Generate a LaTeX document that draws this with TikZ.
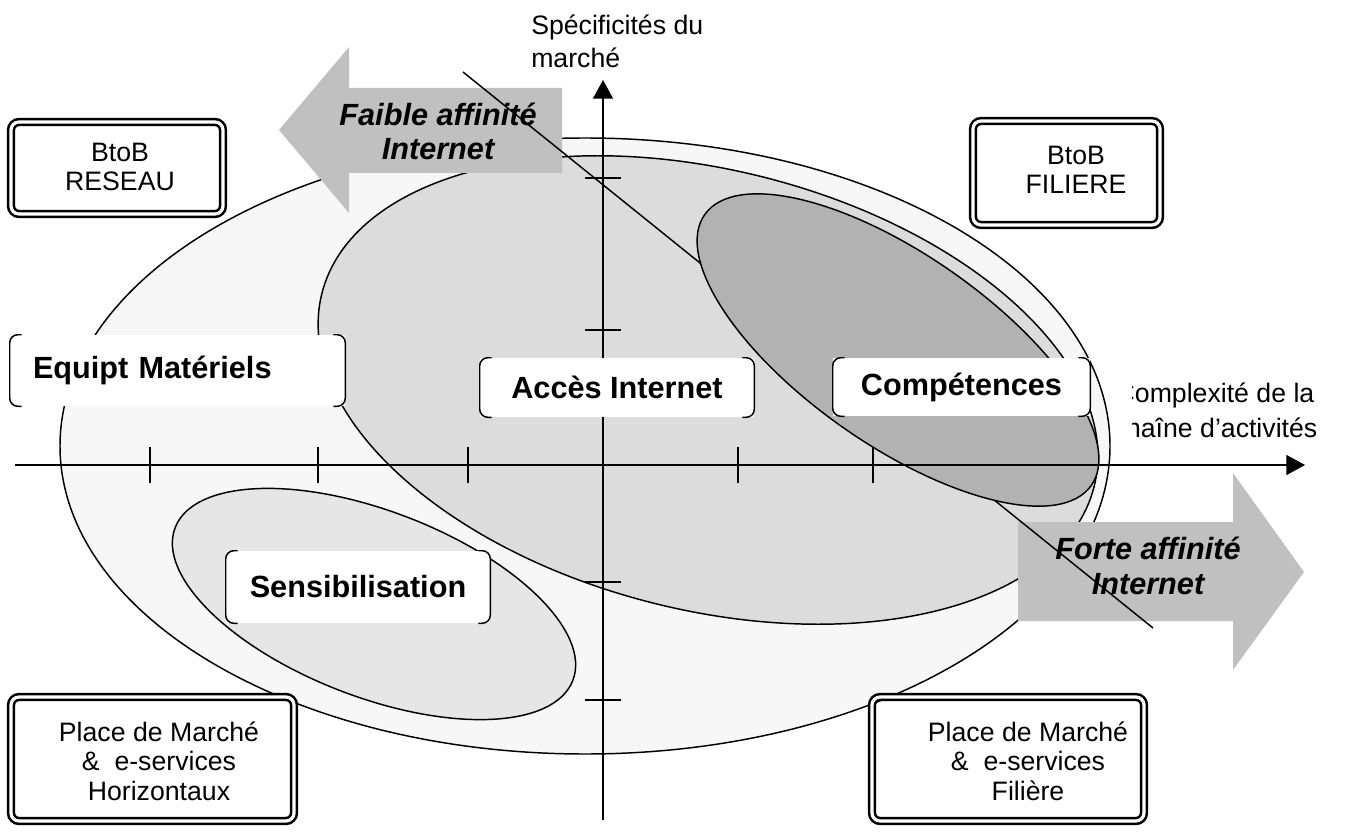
\documentclass[tikz,border=0pt]{standalone}
\usepackage{fontspec}
\setmainfont{Liberation Sans}
\usetikzlibrary{arrows.meta}
\definecolor{ellA}{HTML}{F7F7F7}
\definecolor{ellB}{HTML}{DCDCDC}
\definecolor{ellC}{HTML}{E6E6E6}
\definecolor{ellD}{HTML}{B2B2B2}
\definecolor{arrg}{HTML}{C0C0C0}
\newcommand\mybrackets[1]{%
  \draw[brk] ([xshift=9pt]#1.north west) -- (#1.north west) -- (#1.south west) -- ([xshift=9pt]#1.south west);
  \draw[brk] ([xshift=-9pt]#1.north east) -- (#1.north east) -- (#1.south east) -- ([xshift=-9pt]#1.south east);}
\begin{document}
\begin{tikzpicture}[x=0.75pt,y=-0.75pt,
  ell/.style={draw=black, line width=1.1pt},
  dblbox/.style={draw=black, double=white, double distance=2.4pt, line width=1.9pt, rounded corners=6pt, inner sep=0pt},
  boxtxt/.style={align=center, font=\fontsize{20}{22}\selectfont, inner sep=0pt},
  tag/.style={fill=white, inner sep=0pt, font=\fontsize{23}{26}\selectfont\bfseries},
  brk/.style={draw=black, line width=1.1pt, rounded corners=6pt},
  bigarrow/.style={fill=arrg, draw=none},
  bigtxt/.style={align=center, font=\fontsize{23}{26}\selectfont\bfseries\itshape, inner sep=0pt},
  axisline/.style={line width=1.1pt, -{Triangle[length=14pt,width=15pt]}},
  tickline/.style={line width=1.1pt},
  axtxt/.style={font=\fontsize{20}{22}\selectfont, inner sep=0pt, anchor=base west}
]
\useasboundingbox (0,0) rectangle (1345,834);

% ellipses
\draw[ell, fill=ellA] (585,446) ellipse [x radius=393.75pt, y radius=231pt];
\draw[ell, fill=ellB, rotate around={-14:(708,390)}] (708,390) ellipse [x radius=298.5pt, y radius=165pt];
\draw[ell, fill=ellC, rotate around={-21:(374,604)}] (374,604) ellipse [x radius=159.75pt, y radius=69.75pt];

% big arrows
\fill[bigarrow] (279,130) -- (349,47) -- (349,88) -- (562,88) -- (562,173) -- (349,173) -- (349,213) -- cycle;
\fill[bigarrow] (1018,522) -- (1233,522) -- (1233,473) -- (1304,572) -- (1233,670) -- (1233,621) -- (1018,621) -- cycle;
\node[bigtxt] (faible) at (438,131.5) {Faible affinité\\Internet};
\node[bigtxt] (forte) at (1148,566) {Forte affinité\\Internet};

% diagonal
\coordinate (d1) at (463,72);
\coordinate (d2) at (1153,628);
\draw[line width=1.1pt] (d1) -- (d2);

% dark ellipse
\draw[ell, fill=ellD, rotate around={-35:(898,350)}] (898,350) ellipse [x radius=177pt, y radius=71.25pt];

% axes
\coordinate (xl) at (15,465);
\coordinate (xr) at (1305,465);
\coordinate (yb) at (603,820);
\coordinate (yt) at (603,80);
\draw[axisline] (xl) -- (xr);
\draw[axisline] (yb) -- (yt);
\foreach \x in {150,318,468,738,873} \draw[tickline] (\x,447) -- (\x,483);
\foreach \y in {178,330,582,700} \draw[tickline] (585,\y) -- (621,\y);

% axis labels
\node[axtxt] (spec1) at (531,35) {Spécificités du};
\node[axtxt] (spec2) at (531,68) {marché};
\begin{scope}
\clip (1132,340) rectangle (1345,460);
\node[axtxt, anchor=base] (cx1) at (1215,402) {Complexité de la};
\node[axtxt, anchor=base] (cx2) at (1215,437) {chaîne d’activités};
\end{scope}

% tags
\node[tag, text width=216.75pt, inner xsep=17.25pt, minimum height=53.25pt, align=left] (equip) at (177.5,370.5) {Equipt Matériels};
\mybrackets{equip}
\node[tag, minimum width=205.5pt, minimum height=44.25pt] (acces) at (617,387.5) {Accès Internet};
\mybrackets{acces}
\node[tag, minimum width=192.75pt, minimum height=43.5pt] (comp) at (961.5,387) {Compétences};
\mybrackets{comp}
\node[tag, minimum width=198pt, minimum height=54pt] (sens) at (358,587) {Sensibilisation};
\mybrackets{sens}

% corner boxes
\node[dblbox, minimum width=159pt, minimum height=69pt] (reseau) at (117,168) {};
\node[boxtxt] (reseau-t) at (120,167) {BtoB\\RESEAU};
\node[dblbox, minimum width=140.25pt, minimum height=78pt] (filiere) at (1066.5,173) {};
\node[boxtxt] (filiere-t) at (1076,170) {BtoB\\FILIERE};
\node[dblbox, minimum width=212.25pt, minimum height=93pt] (horiz) at (152.5,759) {};
\node[boxtxt] (horiz-t) at (159,761) {Place de Marché\\\& \ e-services\\Horizontaux};
\node[dblbox, minimum width=204pt, minimum height=93pt] (filpm) at (1008,759) {};
\node[boxtxt] (filpm-t) at (1028,761) {Place de Marché\\\& \ e-services\\Filière};
\end{tikzpicture}
\end{document}
